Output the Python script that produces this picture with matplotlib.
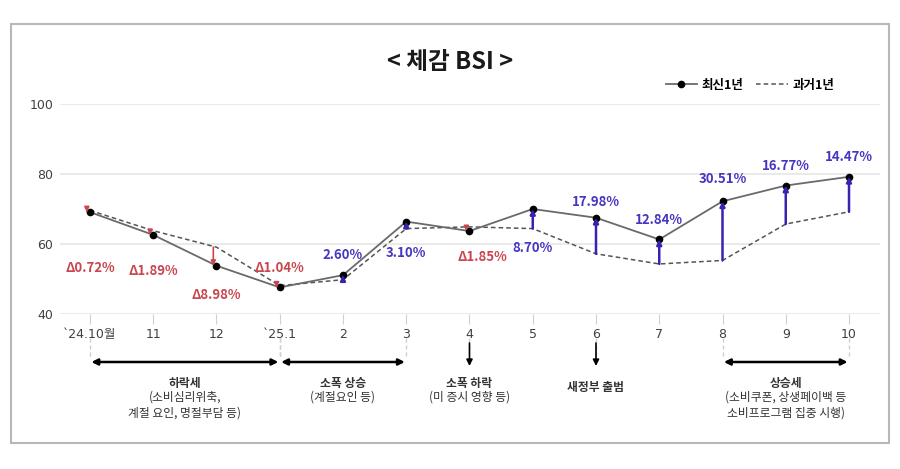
import matplotlib.pyplot as plt
import matplotlib.transforms as mtransforms
from matplotlib.patches import Rectangle

plt.rcParams['font.family'] = ['Noto Sans CJK KR', 'DejaVu Sans']

# data
months = ["`24.10월", "11", "12", "`25.1", "2", "3", "4", "5", "6", "7", "8", "9", "10"]
latest = [69.1, 62.6, 53.8, 47.6, 51.1, 66.4, 63.7, 70.0, 67.5, 61.3, 72.2, 76.7, 79.2]
past = [69.6, 63.8, 59.1, 48.1, 49.8, 64.4, 64.9, 64.4, 57.2, 54.3, 55.3, 65.7, 69.2]
pct = ["Δ0.72%", "Δ1.89%", "Δ8.98%", "Δ1.04%", "2.60%", "3.10%", "Δ1.85%",
       "8.70%", "17.98%", "12.84%", "30.51%", "16.77%", "14.47%"]

# bottom annotations: (start index, end index, title, sub lines)
events = [
    (0, 3, "하락세", "(소비심리위축,\n계절 요인, 명절부담 등)"),
    (3, 5, "소폭 상승", "(계절요인 등)"),
    (6, 6, "소폭 하락", "(미 증시 영향 등)"),
    (8, 8, "새정부 출범", ""),
    (10, 12, "상승세", "(소비쿠폰, 상생페이백 등\n소비프로그램 집중 시행)"),
]

# layout for percentage labels (y in data units)
label_y = [53.0, 52.2, 45.3, 53.0, 56.9, 57.4, 56.3, 58.9, 72.0, 66.9, 78.6, 82.3, 84.9]
label_dx = [0, 0, 0, 0, 0, 0, 0.2, 0, 0, 0, 0, 0, 0]

RED = "#c8474f"
BLUE = "#4636c0"
ARROW_BLUE = "#3a22b0"
LINE = "#6a6a6a"
TICK_FONT = ['DejaVu Sans', 'Noto Sans CJK KR']

fig = plt.figure(figsize=(9, 4.69), dpi=100)
fig.patches.append(Rectangle((11 / 900, 1 - 443 / 469), 878 / 900, 419 / 469,
                             transform=fig.transFigure, fill=False,
                             edgecolor="#b8b8b8", linewidth=1.5))

ax = fig.add_axes([60 / 900, 1 - 314 / 469, 820 / 900, 210 / 469])
x = list(range(len(months)))

ax.set_xlim(-0.474, 12.49)
ax.set_ylim(40, 100)
ax.set_yticks([40, 60, 80, 100])
ax.grid(axis="y", color="#e6e6e6", linewidth=1.2)
ax.set_axisbelow(True)
for s in ax.spines.values():
    s.set_visible(False)
ax.tick_params(axis="y", length=0, labelsize=9, labelcolor="#404040", pad=5)
ax.tick_params(axis="x", length=7, color="#d0d0d0", labelsize=9,
               labelcolor="#404040", pad=3)
ax.set_xticks(x)
ax.set_xticklabels(months)
for t in ax.get_xticklabels() + ax.get_yticklabels():
    t.set_family(TICK_FONT)

ax.plot(x, past, linestyle=(0, (3, 2)), color="#555555", linewidth=1.1,
        label="과거1년", zorder=2)
ax.plot(x, latest, color=LINE, linewidth=1.3, marker="o", markersize=4.5,
        markerfacecolor="black", markeredgecolor="black", label="최신1년", zorder=3)

for i in x:
    up = latest[i] >= past[i]
    col = ARROW_BLUE if up else RED
    xi = i if up else i - 0.05
    ax.annotate("", xy=(xi, latest[i]), xytext=(xi, past[i]),
                arrowprops=dict(arrowstyle="-|>", color=col,
                                lw=1.8 if up else 1.2,
                                mutation_scale=7, shrinkA=0, shrinkB=0),
                zorder=4)
    ax.text(i + label_dx[i], label_y[i], pct[i], ha="center", va="center",
            fontsize=9.5, fontweight="bold", color=BLUE if up else RED)

handles, labels = ax.get_legend_handles_labels()
fig.legend(handles[::-1], labels[::-1], loc="center", ncol=2,
           bbox_to_anchor=(750 / 900, 1 - 85 / 469), frameon=False,
           prop={"size": 9, "weight": "bold"}, handlelength=2.5,
           columnspacing=1.0, handletextpad=0.4)

fig.text(0.5, 1 - 62 / 469, "< 체감 BSI >", ha="center", va="center",
         fontsize=17, fontweight="bold", color="#1a1a1a")

# bottom event annotations
tr = mtransforms.blended_transform_factory(ax.transData, fig.transFigure)


def fy(py):
    return 1 - py / 469


for a, b, title, sub in events:
    for k in {a, b}:
        ax.plot([k, k], [fy(338), fy(357)], transform=tr, clip_on=False,
                color="#cfcfcf", linewidth=1, linestyle=(0, (3, 2)))
    if a == b:
        ax.annotate("", xy=(a, fy(366)), xytext=(a, fy(343)), xycoords=tr,
                    textcoords=tr,
                    arrowprops=dict(arrowstyle="-|>", color="black", lw=1.2,
                                    mutation_scale=9, shrinkA=0, shrinkB=0))
        ty = fy(387) if not sub else fy(383)
    else:
        ax.annotate("", xy=(b, fy(362)), xytext=(a, fy(362)), xycoords=tr,
                    textcoords=tr,
                    arrowprops=dict(arrowstyle="<|-|>", color="black", lw=1.8,
                                    mutation_scale=9, shrinkA=1, shrinkB=1))
        ty = fy(383)
    xm = (a + b) / 2
    ax.text(xm, ty, title, transform=tr, ha="center", va="center",
            fontsize=8.5, fontweight="bold", color="#333333")
    if sub:
        ax.text(xm, fy(391), sub, transform=tr, ha="center", va="top",
                fontsize=8.5, color="#333333", linespacing=1.25)

fig.savefig("out.png", dpi=100)
